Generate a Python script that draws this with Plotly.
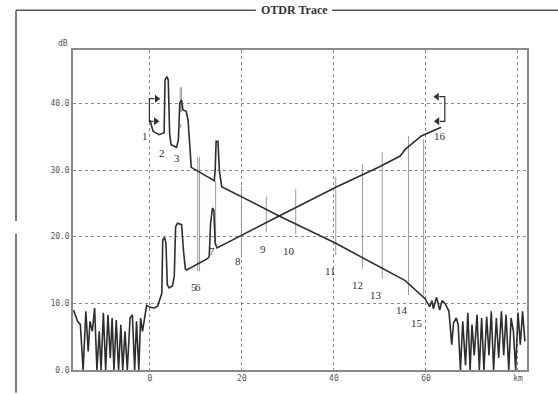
import plotly.graph_objects as go

# ---------------- data (km, dB) ----------------
noise_left_km = [-16.6, -15.7, -15.1, -14.5, -13.9, -13.4, -13.0, -12.5, -12.0, -11.5, -11.0, -10.6,
                 -10.1, -9.6, -9.1, -8.6, -8.2, -7.8, -7.3, -6.8, -6.3, -5.9, -5.4, -4.9, -4.3, -3.8,
                 -3.3, -2.9, -2.4, -2.0, -1.6, -1.2]
noise_left_db = [9.0, 7.3, 6.8, 0.0, 8.8, 2.8, 7.3, 5.8, 9.3, 0.0, 5.8, 0.0,
                 8.6, 0.0, 8.3, 1.8, 7.8, 0.0, 7.5, 0.0, 6.8, 0.0, 5.8, 0.0, 7.8, 8.3,
                 0.0, 7.3, 0.0, 7.8, 5.8, 7.8]

trace_a_km = [-0.7, 0.0, 1.0, 1.7, 2.2, 2.6, 2.8, 3.2, 3.5, 3.8, 4.2, 4.9, 5.3, 5.6, 6.0, 6.9, 7.3,
              7.7, 8.0, 12.5, 12.9, 13.2, 13.6, 13.9, 14.2, 14.6, 28.1, 32.4, 40.4, 49.7, 54.4,
              55.5, 59.0, 63.3]
trace_a_db = [9.7, 9.4, 9.3, 9.6, 10.8, 11.5, 19.5, 19.9, 19.0, 12.8, 12.3, 12.6, 14.0, 21.5, 22.0,
              21.8, 18.0, 15.2, 15.0, 16.7, 17.0, 22.0, 24.3, 24.0, 19.0, 18.3, 23.1, 24.6, 27.4,
              30.4, 32.1, 33.1, 35.1, 36.4]

trace_b_km = [0.0, 0.7, 2.0, 3.1, 3.3, 3.7, 4.0, 4.3, 4.6, 5.8, 6.2, 6.5, 6.9, 7.2, 7.9, 8.3, 9.0,
              14.0, 14.2, 14.4, 14.8, 15.1, 15.6, 28.1, 40.4, 55.5, 59.8, 60.8, 61.3, 61.6,
              62.3, 63.0, 63.5, 64.2, 65.0, 65.3, 65.6, 66.0, 66.6, 67.0, 67.5, 68.0, 68.6,
              69.1, 69.6, 70.0, 70.5, 71.1, 71.6, 72.1, 72.6, 73.2, 73.7, 74.2, 74.7, 75.3,
              75.8, 76.4, 76.9, 77.4, 78.0, 78.5, 79.0, 79.5, 80.0, 80.5, 81.0, 81.5]
trace_b_db = [37.5, 35.8, 35.3, 35.6, 43.5, 44.0, 43.5, 35.5, 33.8, 33.4, 34.5, 40.0, 40.5, 39.0,
              38.8, 37.5, 30.4, 28.4, 30.0, 34.3, 34.3, 30.0, 27.5, 23.1, 19.0, 13.4, 10.7, 9.5,
              10.4, 9.2, 10.9, 9.0, 10.4, 9.9, 8.8, 6.6, 3.8, 7.1, 7.8, 6.8, 0.0, 7.3, 0.7,
              8.6, 0.0, 6.8, 2.2, 8.3, 0.0, 7.8, 0.0, 8.0, 2.2, 8.8, 0.0, 7.8,
              1.8, 8.8, 2.2, 8.3, 0.0, 7.8, 5.8, 0.0, 8.6, 3.8, 8.8, 4.3]

# event marker lines: position, top, bottom (dB)
event_km = [6.6, 6.9, 10.4, 10.8, 14.3, 19.9, 25.3, 31.7, 40.4, 46.2, 50.5, 56.2, 59.5]
event_top = [42.4, 42.4, 31.9, 31.9, 28.4, 27.6, 26.0, 27.2, 29.0, 30.9, 32.7, 35.1, 34.6]
event_bot = [38.7, 38.7, 14.8, 14.8, 18.7, 17.2, 20.7, 20.4, 17.2, 15.2, 13.7, 11.2, 11.2]

label_text = ["1", "2", "3", "5", "6", "7", "8", "9", "10", "11", "12", "13", "14", "15", "16"]
label_km = [-1.1, 2.6, 5.8, 9.7, 10.5, 13.6, 19.2, 24.6, 30.2, 39.3, 45.1, 49.2, 54.9, 58.1, 63.1]
label_db = [35.1, 32.5, 31.8, 12.4, 12.4, 17.9, 16.4, 18.2, 17.9, 14.8, 12.8, 11.3, 9.0, 7.0, 35.1]

# cursor brackets (markers 1 and 16)
cur1_km = [1.0, -0.1, -0.1, 0.8]
cur1_db = [40.7, 40.7, 37.3, 37.3]
cur16_km = [62.9, 64.1, 64.1, 63.0]
cur16_db = [41.0, 41.0, 37.3, 37.3]

x_ticks = [0, 20, 40, 60, 80]
x_ticktext = ["0", "20", "40", "60", "km"]
y_ticks = [0, 10, 20, 30, 40]
y_ticktext = ["0.0", "10.0", "20.0", "30.0", "40.0"]

# ---------------- figure ----------------
TRACE_COL = "#2e2e2e"
fig = go.Figure()

ev_x, ev_y = [], []
for k, t, b in zip(event_km, event_top, event_bot):
    ev_x += [k, k, None]
    ev_y += [b, t, None]
fig.add_trace(go.Scatter(x=ev_x, y=ev_y, mode="lines",
                         line=dict(color="#9a9a9a", width=1), hoverinfo="skip"))

fig.add_trace(go.Scatter(x=noise_left_km + trace_a_km, y=noise_left_db + trace_a_db, mode="lines",
                         line=dict(color=TRACE_COL, width=1.6)))
fig.add_trace(go.Scatter(x=trace_b_km, y=trace_b_db, mode="lines",
                         line=dict(color=TRACE_COL, width=1.6)))

fig.add_trace(go.Scatter(x=cur1_km, y=cur1_db, mode="lines", line=dict(color=TRACE_COL, width=1.2)))
fig.add_trace(go.Scatter(x=[cur1_km[0] + 0.5, cur1_km[3] + 0.5], y=[cur1_db[0], cur1_db[3]],
                         mode="markers", marker=dict(symbol="triangle-right", size=7, color=TRACE_COL)))
fig.add_trace(go.Scatter(x=cur16_km, y=cur16_db, mode="lines", line=dict(color=TRACE_COL, width=1.2)))
fig.add_trace(go.Scatter(x=[cur16_km[0] - 0.5, cur16_km[3] - 0.5], y=[cur16_db[0], cur16_db[3]],
                         mode="markers", marker=dict(symbol="triangle-left", size=7, color=TRACE_COL)))

for t, k, d in zip(label_text, label_km, label_db):
    fig.add_annotation(x=k, y=d, text=t, showarrow=False, xanchor="center", yanchor="middle",
                       font=dict(family="Liberation Serif", size=11, color="#333"))
fig.add_annotation(x=6.5, y=36.6, text="4", showarrow=False, xanchor="center", yanchor="middle",
                   font=dict(family="Liberation Serif", size=7, color="#777"))

# outer frame with title
L, R, T, B = 73, 527, 50, 372
def px(x):
    return (x - L) / (R - L)
def py(y):
    return (B - y) / (B - T)
frame_col = "#555"
fig.add_shape(type="line", xref="paper", yref="paper", x0=px(16), x1=px(16), y0=py(10), y1=py(222),
              line=dict(color=frame_col, width=1.5))
fig.add_shape(type="line", xref="paper", yref="paper", x0=px(16), x1=px(16), y0=py(235), y1=py(395),
              line=dict(color=frame_col, width=1.5))
fig.add_shape(type="line", xref="paper", yref="paper", x0=px(16), x1=px(256), y0=py(10), y1=py(10),
              line=dict(color=frame_col, width=1.5))
fig.add_shape(type="line", xref="paper", yref="paper", x0=px(332), x1=px(558), y0=py(10), y1=py(10),
              line=dict(color=frame_col, width=1.5))
fig.add_annotation(xref="paper", yref="paper", x=px(294), y=py(10), text="<b>OTDR Trace</b>",
                   showarrow=False, xanchor="center", yanchor="middle",
                   font=dict(family="Liberation Serif", size=12, color="#333"))
fig.add_annotation(xref="paper", yref="paper", x=px(63), y=py(43), text="dB",
                   showarrow=False, xanchor="center", yanchor="middle",
                   font=dict(family="DejaVu Sans Mono", size=8, color="#555"))

axis_common = dict(showline=True, linecolor="#8a8a8a", linewidth=1.5, mirror=True,
                   showgrid=True, gridcolor="#8a8a8a", griddash="dot", gridwidth=1,
                   zeroline=False, ticks="",
                   tickfont=dict(family="DejaVu Sans Mono", size=8, color="#555"))
fig.update_xaxes(range=[-16.7, 81.96], tickvals=x_ticks, ticktext=x_ticktext, **axis_common)
fig.update_yaxes(range=[0, 48], tickvals=y_ticks, ticktext=y_ticktext, **axis_common)

fig.update_layout(width=558, height=395, margin=dict(l=L, r=558 - R, t=T, b=395 - B),
                  paper_bgcolor="white", plot_bgcolor="white", showlegend=False)

fig.write_html("out.html", config={"displayModeBar": False},
               post_script="document.body.style.margin='0';document.body.style.overflow='hidden';")
